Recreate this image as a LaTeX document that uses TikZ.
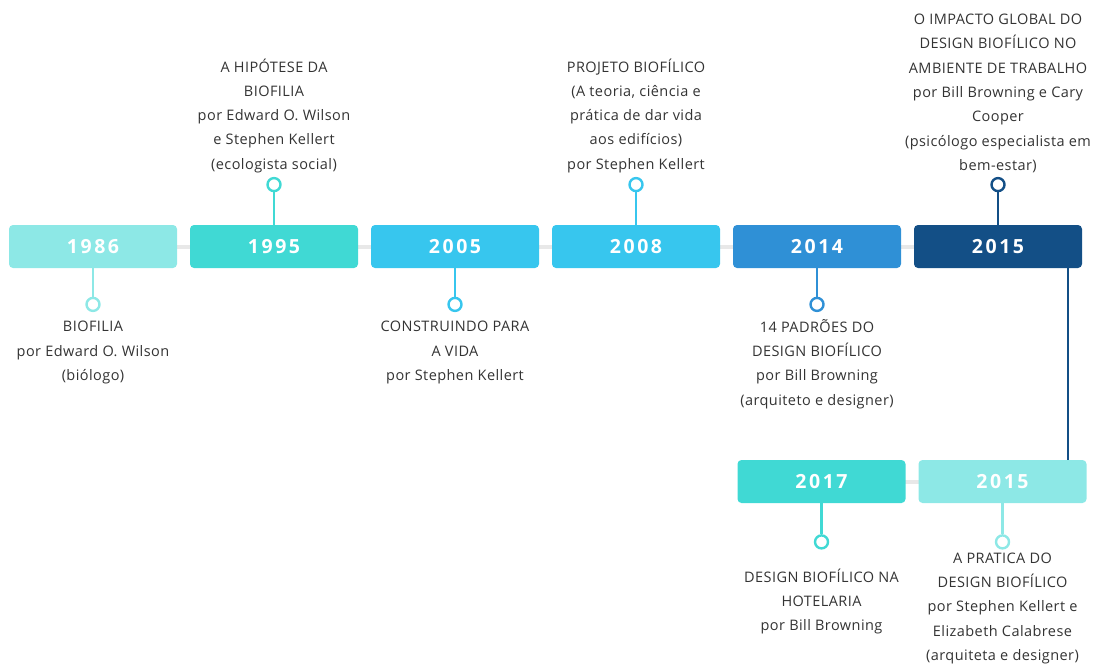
\documentclass[tikz,border=0pt]{standalone}
\usepackage{fontspec}
\setmainfont{Open Sans}
\usetikzlibrary{positioning,backgrounds}
\definecolor{tealA}{HTML}{8DE8E6}
\definecolor{tealB}{HTML}{40D9D4}
\definecolor{skyC}{HTML}{37C6EE}
\definecolor{blueD}{HTML}{2F90D6}
\definecolor{navyE}{HTML}{134F86}
\definecolor{railgray}{HTML}{E8E8E8}
\definecolor{txtgray}{HTML}{333333}

\tikzset{
  yearbox/.style={rounded corners=4pt, minimum width=168pt, minimum height=43pt, inner sep=0pt,
    text=white, font=\fontsize{19.5}{19.5}\selectfont\bfseries\addfontfeatures{LetterSpace=13}},
  pin/.style={circle, draw=#1, fill=white, line width=2.4pt, minimum size=13pt, inner sep=0pt},
  stem/.style={line width=2.4pt},
  note/.style={align=center, inner sep=0pt, text=txtgray,
    font=\fontsize{14.5}{24.3}\selectfont\addfontfeatures{LetterSpace=3}},
}

\begin{document}
\begin{tikzpicture}[x=1pt,y=-1pt]
\useasboundingbox (0,0) rectangle (1102,664);

% first row
\foreach \yr/\x/\col in {1986/93/tealA,1995/274/tealB,2005/455/skyC,2008/636/skyC,2014/817/blueD,2015/998/navyE}{
\node[yearbox, fill=\col] (y\yr) at (\x,246.5) {\yr};
}
% second row
\node[yearbox, fill=tealB] (y2017) at (821.5,481.5) {2017};
\node[yearbox, fill=tealA] (y2015b) at (1002.5,481.5) {2015};

% gray rail behind the boxes
\begin{scope}[on background layer]
\draw[railgray, line width=4pt] (y1986.center) -- (y2015.center);
\draw[railgray, line width=4pt] (y2017.center) -- (y2015b.center);
\end{scope}

% link between the two rows
\draw[navyE, stem] ([xshift=-14pt]y2015.south east) -- ([xshift=-14pt]y2015.south east |- y2015b.north);

% pins above
\node[pin=tealB] (c1995) [above=32.5pt of y1995.north] {};
\node[pin=skyC] (c2008) [above=32.5pt of y2008.north] {};
\node[pin=navyE] (c2015) [above=32.5pt of y2015.north] {};
% pins below
\node[pin=tealA] (c1986) [below=28.5pt of y1986.south] {};
\node[pin=skyC] (c2005) [below=28.5pt of y2005.south] {};
\node[pin=blueD] (c2014) [below=28.5pt of y2014.south] {};
\node[pin=tealB] (c2017) [below=31pt of y2017.south] {};
\node[pin=tealA] (c2015b) [below=31pt of y2015b.south] {};

\draw[tealB, stem] (c1995) -- (y1995.north);
\draw[skyC, stem] (c2008) -- (y2008.north);
\draw[navyE, stem] (c2015) -- (y2015.north);
\draw[tealA, stem] (c1986) -- (y1986.south);
\draw[skyC, stem] (c2005) -- (y2005.south);
\draw[blueD, stem] (c2014) -- (y2014.south);
\draw[tealB, stem] (c2017) -- (y2017.south);
\draw[tealA, stem] (c2015b) -- (y2015b.south);

% texts
\node[note, above=4pt of c1995] (t1995) {A HIPÓTESE DA\\BIOFILIA\\por Edward O. Wilson\\e Stephen Kellert\\(ecologista social)};
\node[note, above=4pt of c2008] (t2008) {PROJETO BIOFÍLICO\\(A teoria, ciência e\\prática de dar vida\\aos edifícios)\\por Stephen Kellert};
\node[note, above=4pt of c2015] (t2015) {O IMPACTO GLOBAL DO\\DESIGN BIOFÍLICO NO\\AMBIENTE DE TRABALHO\\por Bill Browning e Cary\\Cooper\\(psicólogo especialista em\\bem-estar)};
\node[note, below=9pt of c1986] (t1986) {BIOFILIA\\por Edward O. Wilson\\(biólogo)};
\node[note, below=9pt of c2005] (t2005) {CONSTRUINDO PARA\\A VIDA\\por Stephen Kellert};
\node[note, below=7pt of c2014] (t2014) {14 PADRÕES DO\\DESIGN BIOFÍLICO\\por Bill Browning\\(arquiteto e designer)};
\node[note, below=19pt of c2017] (t2017) {DESIGN BIOFÍLICO NA\\HOTELARIA\\por Bill Browning};
\node[note, below=3pt of c2015b] (t2015b) {A PRATICA DO\\DESIGN BIOFÍLICO\\por Stephen Kellert e\\Elizabeth Calabrese\\(arquiteta e designer)};
\end{tikzpicture}
\end{document}
